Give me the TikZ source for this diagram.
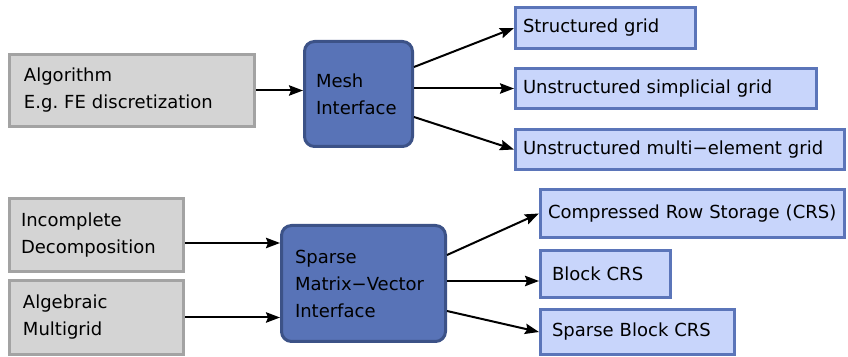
\documentclass[tikz,border=0pt]{standalone}
\usepackage{fontspec}
\setmainfont{DejaVu Sans}
\usetikzlibrary{arrows.meta,calc}

\definecolor{algofill}{HTML}{D4D4D4}
\definecolor{algoline}{HTML}{A3A3A3}
\definecolor{iffill}{HTML}{5873B7}
\definecolor{ifline}{HTML}{3C5287}
\definecolor{implfill}{HTML}{C8D5FB}
\definecolor{implline}{HTML}{5B75B9}

\begin{document}
\begin{tikzpicture}[x=0.5pt,y=-0.5pt,
  font=\fontsize{9}{13.5}\selectfont,
  box/.style={rectangle,line width=1.5pt,align=left,inner ysep=0pt},
  algo/.style={box,draw=algoline,fill=algofill},
  iface/.style={box,draw=ifline,fill=iffill,rounded corners=5pt},
  impl/.style={box,draw=implline,fill=implfill},
  arr/.style={line width=1pt,-{Stealth[length=7pt,width=5.2pt,inset=1pt]}}]
\useasboundingbox (0,0) rectangle (848,357);

% mesh part
\node[algo,minimum width=122.5pt,minimum height=36pt,inner xsep=7.25pt,text width=108pt] (algo) at (132,90.5) {Algorithm\\E.g.\ FE discretization};
\node[iface,minimum width=54pt,minimum height=52.5pt,inner xsep=5.75pt,text width=42.5pt] (mesh) at (358.5,94) {Mesh\\Interface};
\node[impl,minimum width=90pt,minimum height=20.5pt,inner xsep=3.75pt,text width=82.5pt] (sg) at (605.5,28) {Structured grid};
\node[impl,minimum width=150.5pt,minimum height=20pt,inner xsep=3.75pt,text width=143pt] (usg) at (666,88.5) {Unstructured simplicial grid};
\node[impl,minimum width=164.5pt,minimum height=20pt,inner xsep=3.75pt,text width=157pt] (umg) at (680,149.5) {Unstructured multi−element grid};

\draw[arr] (algo.east) -- (algo.east -| mesh.west);
\draw[arr] ($(mesh.east)+(0,-27)$) -- (sg.west);
\draw[arr] (mesh.east |- usg.west) -- (usg.west);
\draw[arr] ($(mesh.east)+(0,23)$) -- (umg.west);

% matrix part
\node[algo,minimum width=87pt,minimum height=36.5pt,inner xsep=5.75pt,text width=75.5pt] (incd) at (96.5,235) {Incomplete\\Decomposition};
\node[algo,minimum width=87pt,minimum height=37pt,inner xsep=6.75pt,text width=73.5pt] (amg) at (96.5,317.5) {Algebraic\\Multigrid};
\node[iface,minimum width=82pt,minimum height=58pt,inner xsep=6.75pt,text width=68.5pt] (spmv) at (363.5,283.5) {Sparse\\Matrix−Vector\\Interface};
\node[impl,minimum width=152pt,minimum height=24pt,inner xsep=3.75pt,text width=144.5pt] (crs) at (692.5,213.5) {Compressed Row Storage (CRS)};
\node[impl,minimum width=65pt,minimum height=23.5pt,inner xsep=5.75pt,text width=53.5pt] (bcrs) at (605.5,274) {Block CRS};
\node[impl,minimum width=97pt,minimum height=22.5pt,inner xsep=5.75pt,text width=85.5pt] (sbcrs) at (637.5,332) {Sparse Block CRS};

\draw[arr] ($(incd.east)+(0,8)$) -- ($(incd.east -| spmv.west)+(0,8)$);
\draw[arr] (amg.east) -- (amg.east -| spmv.west);
\draw[arr] ($(spmv.east)+(0,-28.5)$) -- (crs.west);
\draw[arr] ($(spmv.east)+(0,-2.5)$) -- ($(bcrs.west)+(0,7)$);
\draw[arr] ($(spmv.east)+(0,27.5)$) -- (sbcrs.west);
\end{tikzpicture}
\end{document}
